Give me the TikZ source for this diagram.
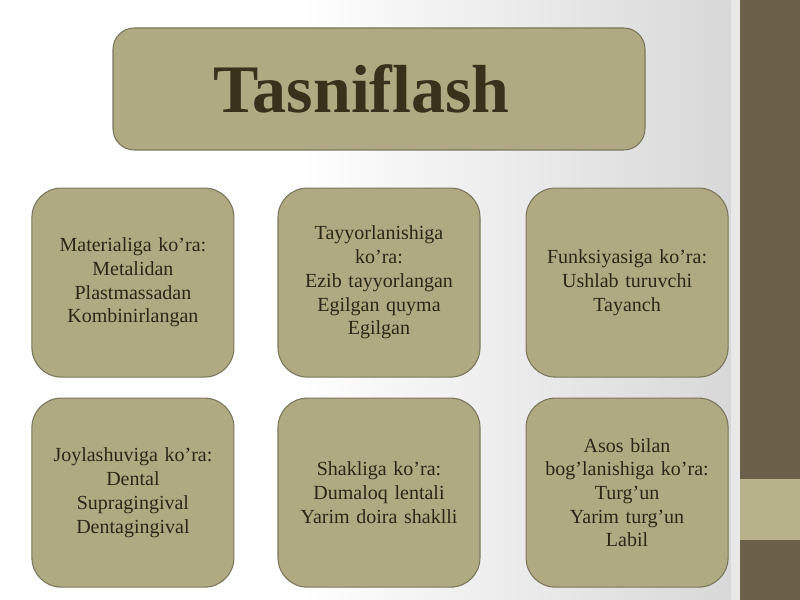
\documentclass[tikz,border=0pt]{standalone}
\usepackage{fontspec}
\setmainfont{Liberation Serif}
\usetikzlibrary{positioning}
\definecolor{boxfill}{RGB}{176,170,130}
\definecolor{boxline}{RGB}{122,118,92}
\definecolor{boxtext}{RGB}{43,39,22}
\definecolor{titletext}{RGB}{58,49,29}
\definecolor{bardark}{RGB}{107,96,74}
\definecolor{barlight}{RGB}{183,178,138}
\definecolor{backgray}{RGB}{216,216,216}

\begin{document}
\begin{tikzpicture}[every node/.style={rectangle, rounded corners=22pt, draw=boxline, line width=0.8pt, fill=boxfill, text=boxtext, align=center, inner sep=0pt, font=\fontsize{15}{17.8}\selectfont},
                    kind/.style={minimum width=151.5pt, minimum height=141.75pt, text width=142pt}]
    \useasboundingbox (0,0) rectangle (600pt,450pt);
    % background and side bar
    \fill[white] (0,0) rectangle (225pt,450pt);
    \shade[left color=white, right color=backgray] (225pt,0) rectangle (548pt,450pt);
    \fill[backgray!60] (548pt,0) rectangle (555pt,450pt);
    \fill[bardark] (555pt,0) rectangle (600pt,450pt);
    \fill[barlight] (555pt,45pt) rectangle (600pt,90.75pt);

    \node[minimum width=399pt, minimum height=91.5pt, rounded corners=16pt, text=titletext, font=\fontsize{51}{60}\selectfont\bfseries](title) at (284.25pt,383.25pt) {Tasniflash\kern26pt};

    \node[kind, below=27.75pt of title](tay) {Tayyorlanishiga\\ko’ra:\\Ezib tayyorlangan\\Egilgan quyma\\Egilgan};
    \node[kind, left=32.25pt of tay](mat) {Materialiga ko’ra:\\Metalidan\\Plastmassadan\\Kombinirlangan};
    \node[kind, right=33.75pt of tay](fun) {Funksiyasiga ko’ra:\\Ushlab turuvchi\\Tayanch};

    \node[kind, below=15pt of mat](joy) {Joylashuviga ko’ra:\\Dental\\Supragingival\\Dentagingival};
    \node[kind, below=15pt of tay](sha) {Shakliga ko’ra:\\Dumaloq lentali\\Yarim doira shaklli};
    \node[kind, below=15pt of fun](aso) {Asos bilan\\bog’lanishiga ko’ra:\\Turg’un\\Yarim turg’un\\Labil};
\end{tikzpicture}
\end{document}
